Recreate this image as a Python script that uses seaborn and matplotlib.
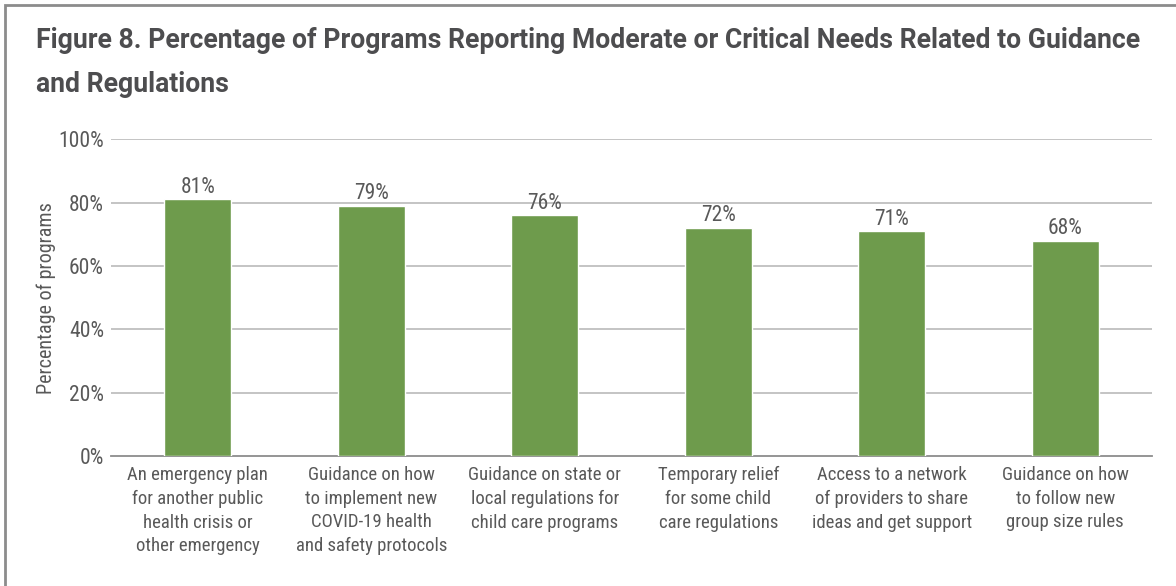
import matplotlib
matplotlib.use("Agg")
import matplotlib.pyplot as plt
from matplotlib import font_manager
from matplotlib.patches import Rectangle
import seaborn as sns
import pandas as pd

categories = [
    "An emergency plan\nfor another public\nhealth crisis or\nother emergency",
    "Guidance on how\nto implement new\nCOVID-19 health\nand safety protocols",
    "Guidance on state or\nlocal regulations for\nchild care programs",
    "Temporary relief\nfor some child\ncare regulations",
    "Access to a network\nof providers to share\nideas and get support",
    "Guidance on how\nto follow new\ngroup size rules",
]
values = [81, 79, 76, 72, 71, 68]
y_ticks = [0, 20, 40, 60, 80, 100]
y_tick_labels = ["0%", "20%", "40%", "60%", "80%", "100%"]
title_lines = [
    "Figure 8. Percentage of Programs Reporting Moderate or Critical Needs Related to Guidance",
    "and Regulations",
]
y_label = "Percentage of programs"

fonts = font_manager.fontManager.ttflist


def pick(options, min_weight=0):
    for name in options:
        for f in fonts:
            if f.name == name and f.style == "normal":
                w = f.weight if isinstance(f.weight, int) else 400
                if w >= min_weight:
                    return name
    return "DejaVu Sans"


body_font = pick(["Roboto Condensed", "Archivo Narrow", "Asap Condensed",
                  "Liberation Sans Narrow"])
title_font = pick(["Libre Franklin", "Archivo", "Roboto", "Liberation Sans"],
                  min_weight=700)

sns.set_theme(style="white")
plt.rcParams["font.family"] = [body_font, "DejaVu Sans"]

BAR = "#6E9B4C"
TEXT = "#595959"
GRID = "#BFBFBF"
AXIS = "#8C8C8C"

df = pd.DataFrame({"category": categories, "value": values})

W, H = 1176, 586
fig = plt.figure(figsize=(W / 100, H / 100), dpi=100)
ax = fig.add_axes([111 / W, 1 - 456 / H, 1041 / W, (456 - 139.3) / H])

sns.barplot(data=df, x="category", y="value", color=BAR, width=0.386,
            saturation=1, ax=ax, zorder=3)

ax.set_ylim(0, 100)
ax.set_xlim(-0.5, len(categories) - 0.5)
ax.set_yticks(y_ticks)
ax.set_yticklabels(y_tick_labels, fontsize=15.5, color=TEXT)
ax.set_xticks(range(len(categories)))
ax.set_xticklabels(categories, fontsize=13.5, color=TEXT, linespacing=1.42)
ax.tick_params(axis="x", length=0, pad=7)
ax.tick_params(axis="y", length=0, pad=5)
ax.set_xlabel("")
ax.set_ylabel(y_label, fontsize=14.5, color=TEXT, labelpad=2)

for t in y_ticks[1:]:
    ax.axhline(t, color=GRID, lw=1.3, zorder=1)
for side in ["top", "right", "left"]:
    ax.spines[side].set_visible(False)
ax.spines["bottom"].set_color(AXIS)
ax.spines["bottom"].set_linewidth(1.3)

for i, v in enumerate(values):
    ax.text(i, v + 0.5, f"{v}%", ha="center", va="bottom", fontsize=15.5,
            color=TEXT, zorder=4)

# Title: two lines, first line scaled to span the chart width
title_kw = dict(ha="left", va="baseline", fontweight="bold", color="#4D4D4F",
                family=[title_font, "DejaVu Sans"])
t1 = fig.text(36 / W, 1 - 48 / H, title_lines[0], fontsize=18, **title_kw)
fig.canvas.draw()
width_px = t1.get_window_extent().width
size = 18 * 1108 / width_px
t1.set_fontsize(size)
fig.text(36 / W, 1 - 92 / H, title_lines[1], fontsize=size, **title_kw)

fig.patches.append(Rectangle((5 / W, -0.1), 1.2, 1 - 5 / H + 0.1,
                             transform=fig.transFigure, fill=False,
                             edgecolor="#8C8C8C", lw=2))

fig.savefig("out.png", dpi=100)
